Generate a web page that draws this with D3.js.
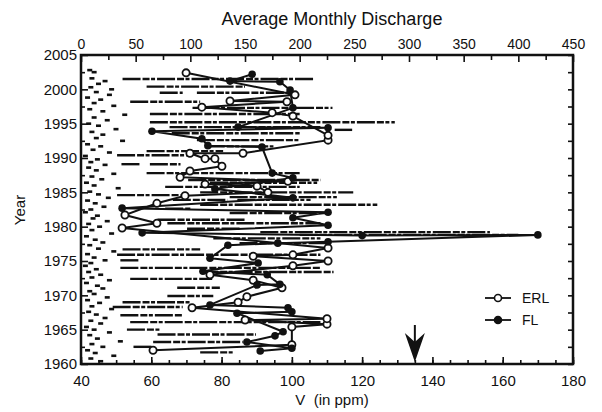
<!DOCTYPE html>
<html>
<head>
<meta charset="utf-8">
<script src="https://cdn.jsdelivr.net/npm/d3@7/dist/d3.min.js"></script>
<style>
  body { margin: 0; background: #fff; }
  svg { display: block; font-family: "Liberation Sans", Arial, sans-serif; }
</style>
</head>
<body>
<div id="chart"></div>
<script>
// ERL (open circles), [year, V ppm], in drawing order
var erl = [
  [1962.0, 60.5], [1962.8, 100], [1965.4, 100], [1965.8, 110], [1966.4, 86.7],
  [1966.6, 110], [1968.2, 71.6], [1969.0, 84.7], [1969.8, 87.2], [1971.1, 97.2],
  [1972.2, 89], [1973.0, 76.7], [1974.3, 100.3], [1975.0, 110.3], [1975.7, 89],
  [1975.9, 100.3], [1976.9, 110.3], [1979.8, 51.7], [1980.5, 61.6], [1981.7, 52.5],
  [1983.4, 61.6], [1984.5, 69.6], [1985.0, 93.2], [1985.9, 90.1], [1986.2, 75.3],
  [1986.6, 98.9], [1987.2, 68.2], [1988.1, 71.0], [1988.8, 80.1], [1989.9, 78.1],
  [1989.9, 75.3], [1990.7, 71.0], [1990.7, 86.1], [1992.6, 110.3], [1993.3, 110.3],
  [1996.1, 100.3], [1996.6, 94.4], [1997.4, 74.4], [1998.2, 98.6], [1998.3, 82.4],
  [1999.2, 100.9], [2002.4, 69.9]
];

// FL (filled circles), [year, V ppm], in drawing order
var fl = [
  [1961.9, 91], [1962.3, 100], [1963.2, 87.2], [1964.1, 95.2], [1964.7, 97.5],
  [1967.4, 84.4], [1967.6, 100], [1968.2, 98.9], [1968.6, 76.7], [1971.5, 90.1],
  [1971.6, 96.6], [1973.0, 93], [1973.5, 74.7], [1974.7, 90.4], [1975.4, 76.7],
  [1977.3, 81.8], [1977.6, 96], [1977.8, 110.3], [1978.8, 170], [1978.7, 120],
  [1979.1, 57.4], [1980.2, 110.3], [1981.3, 100.3], [1982.1, 110.3], [1982.7, 51.7],
  [1984.2, 100.3], [1985.5, 78.1], [1987.1, 100.3], [1987.8, 94.4], [1991.6, 91.5],
  [1991.8, 76.1], [1992.8, 74.4], [1993.9, 60.2], [1994.4, 110.3], [1994.5, 84.7],
  [1997.3, 100.3], [1999.9, 99.5], [2001.1, 96.6], [2001.2, 82.4], [2002.2, 88.7]
];

// monthly discharge runs: [year, from, to] on the discharge axis
var dischargeRuns = [
  [2001.5, 38, 214], [2000.4, 60, 150], [1999.5, 72, 93], [1999.5, 106, 194], [1998.2, 45, 109],
  [1997.3, 102, 230], [1996.4, 63, 200], [1995.2, 63, 287], [1994.5, 81, 219],
  [1994.1, 232, 248], [1993.6, 83, 200], [1992.6, 106, 200], [1991.7, 115, 176],
  [1991.0, 60, 130], [1990.4, 33, 100], [1989.1, 37, 54], [1989.1, 63, 91], [1987.8, 60, 200],
  [1986.8, 98, 219], [1986.4, 118, 216], [1985.8, 77, 200], [1985.0, 109, 249],
  [1984.6, 33, 91], [1984.3, 136, 234], [1983.9, 84, 134], [1983.9, 143, 210],
  [1983.2, 109, 271], [1982.6, 77, 100], [1982.0, 136, 228], [1981.0, 70, 150], [1980.5, 79, 219],
  [1979.7, 97, 145], [1979.2, 164, 374], [1978.8, 200, 400], [1978.3, 121, 219],
  [1977.6, 145, 228], [1976.7, 38, 109], [1975.9, 33, 219], [1975.1, 36, 54],
  [1974.0, 36, 219], [1973.4, 109, 231], [1972.4, 45, 120], [1971.1, 88, 127], [1969.9, 79, 121],
  [1969.0, 38, 100], [1968.3, 29, 93], [1967.1, 36, 93], [1966.1, 45, 219],
  [1965.0, 42, 72], [1964.3, 70, 160], [1963.2, 66, 148], [1962.5, 48, 66], [1961.7, 109, 139]
];

// low monthly discharge points: [year, discharge]
var lowFlow = [
  [2002.8, 8], [2002.5, 12], [2001.6, 10], [2001.2, 22], [2000.8, 16], [2000.3, 9],
  [2000.0, 28], [1999.6, 14], [1999.2, 26], [1998.8, 6], [1998.5, 18], [1998.0, 12],
  [1997.6, 30], [1997.1, 8], [1996.8, 20], [1996.3, 40], [1995.9, 12], [1995.5, 24],
  [1995.0, 7], [1994.7, 16], [1994.2, 32], [1993.8, 10], [1993.4, 20], [1992.9, 14],
  [1992.5, 38], [1992.0, 6], [1991.7, 18], [1991.2, 11], [1990.8, 26], [1990.3, 4],
  [1989.8, 15], [1989.4, 9], [1989.0, 22], [1988.6, 7], [1988.2, 14], [1987.7, 30],
  [1987.3, 10], [1986.9, 19], [1986.4, 5], [1986.0, 12], [1985.6, 34], [1985.1, 8],
  [1984.7, 16], [1984.2, 25], [1983.8, 6], [1983.4, 13], [1982.9, 21], [1982.5, 9],
  [1982.1, 4], [1981.6, 15], [1981.2, 11], [1980.8, 24], [1980.4, 7], [1980.0, 17],
  [1979.5, 10], [1979.0, 28], [1978.6, 5], [1978.1, 13], [1977.7, 20], [1977.3, 8],
  [1976.8, 16], [1976.4, 30], [1976.0, 6], [1975.5, 12], [1975.1, 22], [1974.7, 9],
  [1974.3, 4], [1973.8, 14], [1973.4, 7], [1973.0, 18], [1972.6, 10], [1972.2, 26],
  [1971.8, 5], [1971.4, 15], [1971.0, 20], [1970.6, 8], [1970.2, 12], [1969.7, 24],
  [1969.3, 6], [1968.9, 17], [1968.4, 10], [1968.0, 28], [1967.6, 7], [1967.2, 14],
  [1966.7, 22], [1966.3, 9], [1965.9, 18], [1965.4, 5], [1965.0, 12], [1964.6, 26],
  [1964.2, 8], [1963.7, 15], [1963.3, 36], [1962.9, 10], [1962.5, 20], [1962.0, 6],
  [1961.6, 13], [1961.2, 30], [1960.8, 9], [1960.4, 18]
];

var vTicks = [40, 60, 80, 100, 120, 140, 160, 180];
var qTicks = [0, 50, 100, 150, 200, 250, 300, 350, 400, 450];
var yearTicks = [1960, 1965, 1970, 1975, 1980, 1985, 1990, 1995, 2000, 2005];
var arrowV = 135;

var W = 602, H = 412;
var plotL = 81, plotR = 573, plotT = 55, plotB = 364;
var ink = "#111";

var svg = d3.select("#chart").append("svg")
    .attr("width", W)
    .attr("height", H);

var x = d3.scaleLinear().domain([40, 180]).range([plotL, plotR]);
var xq = d3.scaleLinear().domain([0, 450]).range([plotL, plotR]);
var y = d3.scaleLinear().domain([1960, 2005]).range([plotB, plotT]);

// discharge runs (dashed horizontal strokes)
svg.append("g").selectAll("line")
    .data(dischargeRuns)
    .enter()
    .append("line")
    .attr("x1", d => xq(d[1]))
    .attr("x2", d => xq(d[2]))
    .attr("y1", d => y(d[0]))
    .attr("y2", d => y(d[0]))
    .attr("stroke", ink)
    .attr("stroke-width", 2.4)
    .attr("stroke-dasharray", "18,2,7,1.5,4,2");

// low flow specks
svg.append("g").selectAll("rect")
    .data(lowFlow)
    .enter()
    .append("rect")
    .attr("x", d => xq(d[1]) - 2.5)
    .attr("y", d => y(d[0]) - 1.3)
    .attr("width", 5)
    .attr("height", 2.6)
    .attr("fill", ink);

var line = d3.line()
    .x(d => x(d[1]))
    .y(d => y(d[0]));

svg.append("path")
    .datum(erl)
    .attr("d", line)
    .attr("fill", "none")
    .attr("stroke", ink)
    .attr("stroke-width", 2);

svg.append("path")
    .datum(fl)
    .attr("d", line)
    .attr("fill", "none")
    .attr("stroke", ink)
    .attr("stroke-width", 2);

svg.append("g").selectAll("circle")
    .data(erl)
    .enter()
    .append("circle")
    .attr("cx", d => x(d[1]))
    .attr("cy", d => y(d[0]))
    .attr("r", 3.6)
    .attr("fill", "#fff")
    .attr("stroke", ink)
    .attr("stroke-width", 1.8);

svg.append("g").selectAll("circle")
    .data(fl)
    .enter()
    .append("circle")
    .attr("cx", d => x(d[1]))
    .attr("cy", d => y(d[0]))
    .attr("r", 3.8)
    .attr("fill", ink);

// frame
svg.append("rect")
    .attr("x", plotL)
    .attr("y", plotT)
    .attr("width", plotR - plotL)
    .attr("height", plotB - plotT)
    .attr("fill", "none")
    .attr("stroke", ink)
    .attr("stroke-width", 2.5);

function styleAxis(g, size) {
    g.select(".domain").remove();
    g.selectAll(".tick line").attr("stroke", ink).attr("stroke-width", 1.6);
    g.selectAll(".tick text").attr("fill", ink).attr("font-size", size);
}

// bottom axis
svg.append("g")
    .attr("transform", "translate(0," + plotB + ")")
    .call(d3.axisBottom(x).tickValues(d3.range(40, 181, 5)).tickSize(-4).tickFormat(""))
    .call(g => styleAxis(g, 0));
svg.append("g")
    .attr("transform", "translate(0," + plotB + ")")
    .call(d3.axisBottom(x).tickValues(vTicks).tickSize(-7).tickPadding(11))
    .call(g => styleAxis(g, "15px"));

// top axis (discharge)
svg.append("g")
    .attr("transform", "translate(0," + plotT + ")")
    .call(d3.axisTop(xq).tickValues(d3.range(25, 450, 50)).tickSize(-5).tickFormat(""))
    .call(g => styleAxis(g, 0));
svg.append("g")
    .attr("transform", "translate(0," + plotT + ")")
    .call(d3.axisTop(xq).tickValues(qTicks).tickSize(-7).tickPadding(6))
    .call(g => styleAxis(g, "14px"));

// left axis
svg.append("g")
    .attr("transform", "translate(" + plotL + ",0)")
    .call(d3.axisLeft(y).tickValues(d3.range(1962.5, 2005, 5)).tickSize(-4).tickFormat(""))
    .call(g => styleAxis(g, 0));
svg.append("g")
    .attr("transform", "translate(" + plotL + ",0)")
    .call(d3.axisLeft(y).tickValues(yearTicks).tickSize(-7).tickPadding(4).tickFormat(d3.format("d")))
    .call(g => styleAxis(g, "15px"));

// right axis
svg.append("g")
    .attr("transform", "translate(" + plotR + ",0)")
    .call(d3.axisRight(y).tickValues(d3.range(1960, 2005.1, 2.5)).tickSize(-5).tickFormat(""))
    .call(g => styleAxis(g, 0));

// arrow
var ax = x(arrowV);
svg.append("line")
    .attr("x1", ax).attr("x2", ax)
    .attr("y1", 325).attr("y2", 350)
    .attr("stroke", ink)
    .attr("stroke-width", 2);
svg.append("path")
    .attr("d", "M" + ax + "," + (plotB - 2) + " L" + (ax - 10) + "," + 333 +
               " L" + ax + "," + 342 + " L" + (ax + 10) + "," + 333 + "Z")
    .attr("fill", ink);

// legend
var legend = [["ERL", "open", 298], ["FL", "filled", 320]];
legend.forEach(function (l) {
    svg.append("line")
        .attr("x1", 485).attr("x2", 511)
        .attr("y1", l[2]).attr("y2", l[2])
        .attr("stroke", ink).attr("stroke-width", 1.8);
    svg.append("circle")
        .attr("cx", 498).attr("cy", l[2]).attr("r", 3.5)
        .attr("fill", l[1] === "open" ? "#fff" : ink)
        .attr("stroke", ink).attr("stroke-width", 1.6);
    svg.append("text")
        .attr("x", 522).attr("y", l[2] + 5)
        .attr("font-size", "14px")
        .attr("fill", ink)
        .text(l[0]);
});

// titles
svg.append("text")
    .attr("x", 332).attr("y", 25)
    .attr("text-anchor", "middle")
    .attr("font-size", "18px")
    .attr("fill", ink)
    .text("Average Monthly Discharge");

svg.append("text")
    .attr("x", 332).attr("y", 405)
    .attr("text-anchor", "middle")
    .attr("font-size", "15px")
    .attr("fill", ink)
    .attr("xml:space", "preserve")
    .text("V  (in ppm)");

svg.append("text")
    .attr("transform", "translate(25,210) rotate(-90)")
    .attr("text-anchor", "middle")
    .attr("font-size", "15px")
    .attr("fill", ink)
    .text("Year");
</script>
</body>
</html>
